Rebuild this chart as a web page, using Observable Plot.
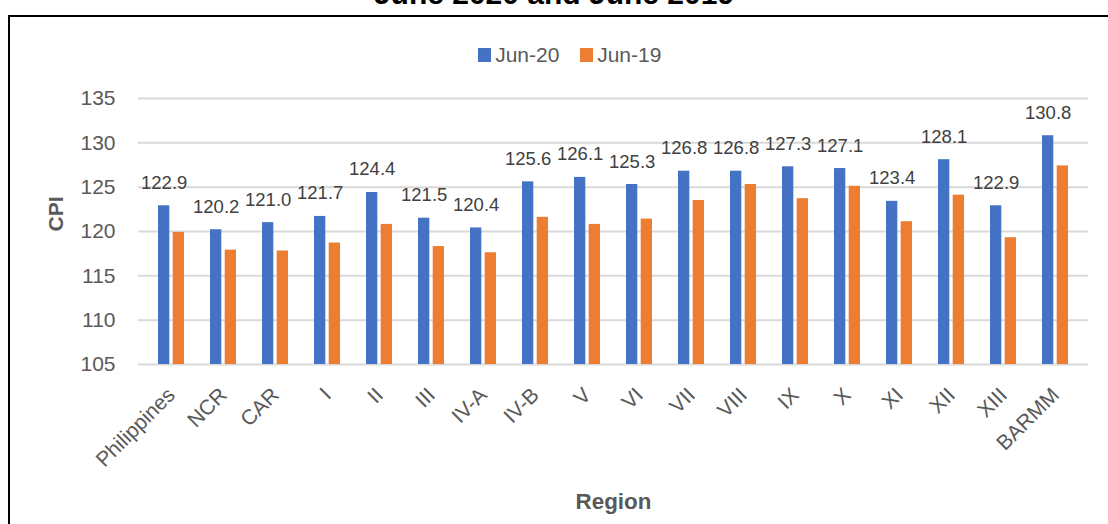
<!DOCTYPE html>
<html>
<head>
<meta charset="utf-8">
<script src="https://cdn.jsdelivr.net/npm/d3@7"></script>
<script src="https://cdn.jsdelivr.net/npm/@observablehq/plot@0.6"></script>
<style>
  html, body { margin: 0; padding: 0; background: #fff; overflow: hidden; }
  #wrap { position: relative; width: 1108px; height: 524px; overflow: hidden; font-family: "Liberation Sans", Arial, sans-serif; }
  #wrap svg { position: absolute; left: 0; top: 0; }
  #border { position: absolute; left: 8px; top: 15px; width: 1300px; height: 700px; border-top: 2px solid #000; border-left: 2.5px solid #000; }
  #title { position: absolute; left: 0; top: -21px; width: 1108px; text-align: center; font-size: 30px; line-height: 30px; font-weight: bold; color: #000; white-space: nowrap; }
  #legend { position: absolute; left: 478px; top: 44px; font-size: 21px; line-height: 21px; color: #595959; white-space: nowrap; }
  #legend .item { display: inline-block; margin-right: 20.6px; }
  #legend .sw { display: inline-block; width: 12.7px; height: 14px; margin-right: 4.5px; vertical-align: baseline; }
</style>
</head>
<body>
<div id="wrap">
  <div id="border"></div>
  <div id="title"></div>
  <div id="legend"></div>
</div>
<script>
const titleText = "June 2020 and June 2019";
const regions = ["Philippines","NCR","CAR","I","II","III","IV-A","IV-B","V","VI","VII","VIII","IX","X","XI","XII","XIII","BARMM"];
const jun20 = [122.9,120.2,121.0,121.7,124.4,121.5,120.4,125.6,126.1,125.3,126.8,126.8,127.3,127.1,123.4,128.1,122.9,130.8];
const jun19 = [119.9,117.9,117.8,118.7,120.8,118.3,117.6,121.6,120.8,121.4,123.5,125.3,123.7,125.1,121.1,124.1,119.3,127.4];
const seriesNames = ["Jun-20","Jun-19"];
const seriesColors = ["#4472C4","#ED7D31"];
const yTicks = [105,110,115,120,125,130,135];
const xTitle = "Region";
const yTitle = "CPI";

const W = 1108, H = 524;
const mL = 138, mR = 20, mT = 98, mB = 160;
const plotW = W - mL - mR;
const step = plotW / regions.length;      // paddingInner 0.5, paddingOuter 0.25
const bw = step * 0.5;
const barGap = 3;
const inset = bw / 2 + barGap / 2;
const labelDx = -(bw / 2 - (bw - inset) / 2);

const rows20 = regions.map((r, i) => ({region: r, value: jun20[i]}));
const rows19 = regions.map((r, i) => ({region: r, value: jun19[i]}));

document.getElementById("title").textContent = titleText;
const legend = document.getElementById("legend");
seriesNames.forEach((s, i) => {
  const item = document.createElement("span");
  item.className = "item";
  const sw = document.createElement("span");
  sw.className = "sw";
  sw.style.background = seriesColors[i];
  item.appendChild(sw);
  item.appendChild(document.createTextNode(s));
  legend.appendChild(item);
});

const chart = Plot.plot({
  width: W, height: H,
  marginLeft: mL, marginRight: mR, marginTop: mT, marginBottom: mB,
  style: {fontFamily: "Liberation Sans, Arial, sans-serif", fontSize: "21px", color: "#595959", background: "transparent", overflow: "visible"},
  x: {domain: regions, paddingInner: 0.5, paddingOuter: 0.25, label: null, tickSize: 0, tickRotate: -45, tickPadding: 27},
  y: {domain: [yTicks[0], yTicks[yTicks.length - 1]], ticks: yTicks, tickSize: 0, tickPadding: 23, label: null},
  marks: [
    Plot.ruleY(yTicks, {stroke: "#d9d9d9", strokeWidth: 2}),
    Plot.barY(rows20, {x: "region", y1: yTicks[0], y2: "value", fill: seriesColors[0], insetRight: inset}),
    Plot.barY(rows19, {x: "region", y1: yTicks[0], y2: "value", fill: seriesColors[1], insetLeft: inset}),
    Plot.text(rows20, {x: "region", y: "value", text: d => d.value.toFixed(1), dx: labelDx, dy: -17, lineAnchor: "bottom", fontSize: 18.5, fill: "#404040"}),
    Plot.text([yTitle], {frameAnchor: "left", dx: -82, rotate: -90, fontWeight: "bold", fontSize: 21, fill: "#595959"}),
    Plot.text([xTitle], {frameAnchor: "bottom", dy: 144, lineAnchor: "bottom", fontWeight: "bold", fontSize: 22.4, fill: "#595959"})
  ]
});
document.getElementById("wrap").appendChild(chart);
</script>
</body>
</html>
